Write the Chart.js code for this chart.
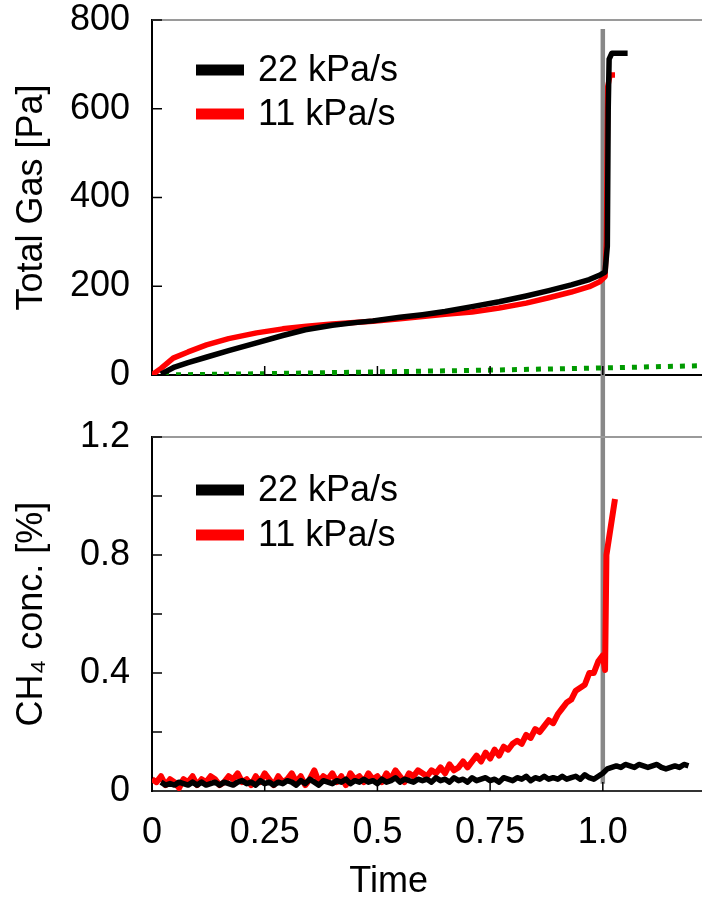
<!DOCTYPE html>
<html>
<head>
<meta charset="utf-8">
<script src="https://cdn.jsdelivr.net/npm/chart.js@4.4.1/dist/chart.umd.min.js"></script>
<style>
  html, body { margin: 0; padding: 0; background: #fff; }
  #wrap { position: relative; width: 702px; height: 898px; }
  canvas { position: absolute; left: 0; }
  #gasChart { top: 0; }
  #ch4Chart { top: 410px; }
</style>
</head>
<body>
<div id="wrap">
  <canvas id="gasChart" width="702" height="410"></canvas>
  <canvas id="ch4Chart" width="702" height="488"></canvas>
</div>
<script>
// series labels
const seriesLabels = ["22 kPa/s", "11 kPa/s"];

// total gas, 22 kPa/s
const gasTime22 = [0.02, 0.05, 0.08, 0.12, 0.17, 0.23, 0.29, 0.34, 0.40, 0.45, 0.49, 0.55, 0.60, 0.65, 0.71, 0.77, 0.83, 0.88, 0.93, 0.97, 0.995, 1.005, 1.010, 1.012, 1.014, 1.020, 1.055];
const gasValues22 = [2, 18, 28, 40, 55, 72, 89, 102, 112, 118, 122, 130, 136, 143, 154, 165, 178, 190, 203, 215, 226, 232, 290, 600, 712, 725, 725];

// total gas, 11 kPa/s
const gasTime11 = [0, 0.02, 0.047, 0.08, 0.121, 0.17, 0.232, 0.29, 0.343, 0.40, 0.49, 0.55, 0.60, 0.65, 0.71, 0.77, 0.83, 0.88, 0.93, 0.97, 0.993, 1.005, 1.008, 1.011, 1.016, 1.027];
const gasValues11 = [0, 15, 38, 52, 68, 82, 95, 104, 110, 115, 121, 127, 132, 137, 142, 151, 162, 174, 187, 199, 210, 222, 300, 650, 676, 676];

// dotted green baseline
const baseTime = [0, 0.1, 0.25, 0.5, 0.75, 1.0, 1.22];
const baseValues = [0, 1, 3, 7, 11, 16, 21];

// CH4 concentration, 22 kPa/s
const ch4Time22 = [
  0.02, 0.03, 0.04, 0.05, 0.06, 0.07, 0.08, 0.09,
  0.10, 0.11, 0.12, 0.13, 0.14, 0.15, 0.16, 0.17, 0.18, 0.19,
  0.20, 0.21, 0.22, 0.23, 0.24, 0.25, 0.26, 0.27, 0.28, 0.29,
  0.30, 0.31, 0.32, 0.33, 0.34, 0.35, 0.36, 0.37, 0.38, 0.39,
  0.40, 0.41, 0.42, 0.43, 0.44, 0.45, 0.46, 0.47, 0.48, 0.49,
  0.50, 0.51, 0.52, 0.53, 0.54, 0.55, 0.56, 0.57, 0.58, 0.59,
  0.60, 0.61, 0.62, 0.63, 0.64, 0.65, 0.66, 0.67, 0.68, 0.69,
  0.70, 0.71, 0.72, 0.73, 0.74, 0.75, 0.76, 0.77, 0.78, 0.79,
  0.80, 0.81, 0.82, 0.83, 0.84, 0.85, 0.86, 0.87, 0.88, 0.89,
  0.90, 0.91, 0.92, 0.93, 0.94, 0.95, 0.96, 0.97, 0.98, 0.99,
  1.00, 1.01, 1.02, 1.03, 1.04, 1.05, 1.06, 1.07, 1.08, 1.09,
  1.10, 1.11, 1.12, 1.13, 1.14, 1.15, 1.16, 1.17, 1.18, 1.19
];
const ch4Values22 = [
  0.03, 0.02, 0.025, 0.02, 0.03, 0.025, 0.02, 0.03,
  0.02, 0.03, 0.02, 0.025, 0.03, 0.02, 0.03, 0.025, 0.02, 0.03,
  0.035, 0.025, 0.03, 0.02, 0.035, 0.025, 0.03, 0.02, 0.03, 0.025,
  0.035, 0.03, 0.02, 0.035, 0.025, 0.04, 0.03, 0.02, 0.035, 0.03,
  0.025, 0.035, 0.03, 0.04, 0.025, 0.035, 0.03, 0.04, 0.03, 0.035,
  0.025, 0.04, 0.03, 0.035, 0.045, 0.03, 0.04, 0.035, 0.03, 0.04,
  0.035, 0.04, 0.03, 0.045, 0.035, 0.04, 0.03, 0.045, 0.035, 0.04,
  0.03, 0.045, 0.035, 0.04, 0.045, 0.035, 0.04, 0.03, 0.045, 0.04,
  0.035, 0.045, 0.04, 0.05, 0.035, 0.045, 0.04, 0.05, 0.04, 0.045,
  0.04, 0.05, 0.04, 0.045, 0.05, 0.04, 0.055, 0.045, 0.04, 0.05,
  0.06, 0.075, 0.08, 0.085, 0.08, 0.09, 0.085, 0.08, 0.09, 0.085,
  0.08, 0.085, 0.09, 0.08, 0.075, 0.08, 0.085, 0.08, 0.09, 0.085
];

// CH4 concentration, 11 kPa/s
const ch4Time11 = [
  0.00, 0.01, 0.02, 0.03, 0.04, 0.05, 0.06, 0.07, 0.08, 0.09,
  0.10, 0.11, 0.12, 0.13, 0.14, 0.15, 0.16, 0.17, 0.18, 0.19,
  0.20, 0.21, 0.22, 0.23, 0.24, 0.25, 0.26, 0.27, 0.28, 0.29,
  0.30, 0.31, 0.32, 0.33, 0.34, 0.35, 0.36, 0.37, 0.38, 0.39,
  0.40, 0.41, 0.42, 0.43, 0.44, 0.45, 0.46, 0.47, 0.48, 0.49,
  0.50, 0.51, 0.52, 0.53, 0.54, 0.55, 0.56, 0.57, 0.58, 0.59,
  0.60, 0.61, 0.62, 0.63, 0.64, 0.65, 0.66, 0.67, 0.68, 0.69,
  0.70, 0.71, 0.72, 0.73, 0.74, 0.75, 0.76, 0.77, 0.78, 0.79,
  0.80, 0.81, 0.82, 0.83, 0.84, 0.85, 0.86, 0.87, 0.88, 0.89,
  0.90, 0.91, 0.92, 0.93, 0.94, 0.95, 0.96, 0.97, 0.98, 0.99,
  1.00, 1.005, 1.008, 1.027
];
const ch4Values11 = [
  0.04, 0.03, 0.05, 0.02, 0.04, 0.03, 0.01, 0.04, 0.03, 0.05,
  0.02, 0.04, 0.03, 0.05, 0.04, 0.02, 0.03, 0.05, 0.04, 0.06,
  0.03, 0.04, 0.02, 0.05, 0.03, 0.06, 0.04, 0.02, 0.05, 0.03,
  0.04, 0.06, 0.03, 0.05, 0.02, 0.04, 0.07, 0.03, 0.05, 0.04,
  0.06, 0.03, 0.05, 0.02, 0.06, 0.04, 0.05, 0.03, 0.06, 0.04,
  0.05, 0.03, 0.06, 0.04, 0.07, 0.05, 0.03, 0.06, 0.05, 0.07,
  0.06, 0.05, 0.07, 0.06, 0.08, 0.06, 0.09, 0.07, 0.08, 0.10,
  0.08, 0.10, 0.12, 0.10, 0.13, 0.11, 0.14, 0.12, 0.15, 0.14,
  0.16, 0.17, 0.16, 0.19, 0.18, 0.21, 0.20, 0.22, 0.24, 0.23,
  0.26, 0.28, 0.30, 0.31, 0.34, 0.35, 0.36, 0.40, 0.40, 0.44,
  0.46, 0.41, 0.80, 0.99
];

// axes
const xTickValues = [0, 0.25, 0.5, 0.75, 1.0];
const xTickLabels = ["0", "0.25", "0.5", "0.75", "1.0"];
const gasTickValues = [0, 200, 400, 600, 800];
const gasTickLabels = ["0", "200", "400", "600", "800"];
const ch4TickValues = [0, 0.4, 0.8, 1.2];
const ch4TickLabels = ["0", "0.4", "0.8", "1.2"];
const ch4TickMarks = [0.2, 0.4, 0.6, 0.8, 1.0, 1.2];
const markTime = 1.0;

const FONT = "'Liberation Sans', Arial, sans-serif";

function points(xs, ys) {
    return xs.map((x, i) => ({ x: x, y: ys[i] }));
}

// gray frame line on top, inward tick marks, vertical marker at t = 1.0
const panelFrame = {
    id: "panelFrame",
    beforeDatasetsDraw(chart, args, o) {
        const { ctx, scales: { x, y } } = chart;
        const px = x.getPixelForValue(markTime);
        const top = o.lineTop == null ? 0 : y.getPixelForValue(o.lineTop);
        const bottom = o.lineBottom == null ? chart.height : y.getPixelForValue(o.lineBottom);
        ctx.save();
        ctx.strokeStyle = "#888888";
        ctx.lineWidth = 4.5;
        ctx.beginPath();
        ctx.moveTo(px, top);
        ctx.lineTo(px, bottom);
        ctx.stroke();
        ctx.restore();
    },
    afterDatasetsDraw(chart, args, o) {
        const { ctx, chartArea: a, scales: { x, y } } = chart;
        ctx.save();
        ctx.strokeStyle = "#9a9a9a";
        ctx.lineWidth = 2;
        ctx.beginPath();
        ctx.moveTo(a.left, a.top);
        ctx.lineTo(a.right, a.top);
        ctx.stroke();
        ctx.strokeStyle = "#000";
        ctx.lineWidth = 1.5;
        o.yMarks.forEach(v => {
            const py = y.getPixelForValue(v);
            ctx.beginPath();
            ctx.moveTo(a.left, py);
            ctx.lineTo(a.left + 10, py);
            ctx.stroke();
        });
        o.xMarks.forEach(v => {
            const px = x.getPixelForValue(v);
            ctx.beginPath();
            ctx.moveTo(px, a.bottom);
            ctx.lineTo(px, a.bottom - 9);
            ctx.stroke();
        });
        ctx.restore();
    }
};

// legend drawn inside the plot area
const innerLegend = {
    id: "innerLegend",
    afterDraw(chart, args, o) {
        const { ctx, chartArea: a } = chart;
        ctx.save();
        ctx.font = "36px " + FONT;
        ctx.textBaseline = "middle";
        let row = 0;
        chart.data.datasets.forEach(ds => {
            if (!ds.label) return;
            const cy = a.top + o.dy + row * o.gap;
            ctx.fillStyle = ds.borderColor;
            ctx.fillRect(a.left + o.dx, cy - 5.5, 48, 11);
            ctx.fillStyle = "#000";
            ctx.fillText(ds.label, a.left + o.dx + 62, cy + 1);
            row++;
        });
        ctx.restore();
    }
};

// x-axis caption, centred on the recorded time span
const timeCaption = {
    id: "timeCaption",
    afterDraw(chart, args, o) {
        if (!o.text) return;
        const { ctx, scales: { x } } = chart;
        ctx.save();
        ctx.font = "36px " + FONT;
        ctx.textAlign = "center";
        ctx.textBaseline = "middle";
        ctx.fillStyle = "#000";
        ctx.fillText(o.text, x.getPixelForValue(o.at), chart.height - o.fromBottom);
        ctx.restore();
    }
};

function xScale(showLabels, height, borderColor) {
    return {
        type: "linear",
        min: 0,
        max: 1.22,
        grid: { display: false, drawTicks: false },
        border: { display: true, color: borderColor, width: 2 },
        afterBuildTicks: s => { s.ticks = xTickValues.map(v => ({ value: v })); },
        ticks: {
            display: showLabels,
            color: "#000",
            maxRotation: 0,
            autoSkip: false,
            padding: 20,
            font: { family: FONT, size: 36 },
            callback: (v, i) => xTickLabels[i]
        },
        afterFit: s => {
            s.height = height;
            s.paddingLeft = 0;
            s.paddingRight = 0;
        }
    };
}

function yScale(max, values, labels, title) {
    return {
        type: "linear",
        min: 0,
        max: max,
        grid: { display: false, drawTicks: false },
        border: { display: true, color: "#000", width: 2 },
        afterBuildTicks: s => { s.ticks = values.map(v => ({ value: v })); },
        ticks: {
            color: "#000",
            autoSkip: false,
            padding: 22,
            font: { family: FONT, size: 36, lineHeight: 1 },
            callback: (v, i) => labels[i]
        },
        title: {
            display: true,
            text: title,
            color: "#000",
            font: { family: FONT, size: 36 },
            padding: { top: 10, bottom: 0 }
        },
        afterFit: s => {
            s.width = 152;
            s.paddingTop = 0;
            s.paddingBottom = 0;
        }
    };
}

new Chart(document.getElementById("gasChart"), {
    type: "line",
    data: {
        datasets: [{
            label: seriesLabels[0],
            data: points(gasTime22, gasValues22),
            borderColor: "#000000",
            borderWidth: 5.5,
            order: 0
        }, {
            label: seriesLabels[1],
            data: points(gasTime11, gasValues11),
            borderColor: "#ff0000",
            borderWidth: 5.5,
            order: 1
        }, {
            data: points(baseTime, baseValues),
            borderColor: "#009a00",
            borderWidth: 5,
            borderDash: [5, 7],
            borderCapStyle: "butt",
            order: 2
        }]
    },
    options: {
        responsive: false,
        animation: false,
        events: [],
        elements: { point: { radius: 0 }, line: { tension: 0, borderJoinStyle: "round" } },
        layout: { padding: { top: 20, left: 0, right: 0, bottom: 0 } },
        scales: {
            x: xScale(false, 35, "#000"),
            y: yScale(800, gasTickValues, gasTickLabels, "Total Gas [Pa]")
        },
        plugins: {
            legend: { display: false },
            tooltip: { enabled: false },
            panelFrame: { lineTop: 780, lineBottom: null, yMarks: [200, 400, 600, 800], xMarks: [0.25, 0.5, 0.75, 1.0] },
            innerLegend: { dx: 44, dy: 50, gap: 44 },
            timeCaption: { text: "" }
        }
    },
    plugins: [panelFrame, innerLegend, timeCaption]
});

new Chart(document.getElementById("ch4Chart"), {
    type: "line",
    data: {
        datasets: [{
            label: seriesLabels[0],
            data: points(ch4Time22, ch4Values22),
            borderColor: "#000000",
            borderWidth: 5.5,
            order: 0
        }, {
            label: seriesLabels[1],
            data: points(ch4Time11, ch4Values11),
            borderColor: "#ff0000",
            borderWidth: 6,
            order: 1
        }]
    },
    options: {
        responsive: false,
        animation: false,
        events: [],
        elements: { point: { radius: 0 }, line: { tension: 0, borderJoinStyle: "round" } },
        layout: { padding: { top: 27, left: 0, right: 0, bottom: 0 } },
        scales: {
            x: xScale(true, 107, "#333"),
            y: yScale(1.2, ch4TickValues, ch4TickLabels, "CH\u2084 conc. [%]")
        },
        plugins: {
            legend: { display: false },
            tooltip: { enabled: false },
            panelFrame: { lineTop: null, lineBottom: 0.025, yMarks: ch4TickMarks, xMarks: [0.25, 0.5, 0.75, 1.0] },
            innerLegend: { dx: 44, dy: 53, gap: 45 },
            timeCaption: { text: "Time", at: 0.525, fromBottom: 16 }
        }
    },
    plugins: [panelFrame, innerLegend, timeCaption]
});
</script>
</body>
</html>
